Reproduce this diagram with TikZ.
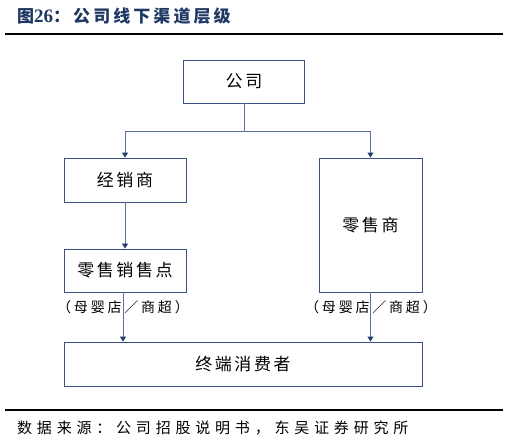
\documentclass[tikz,border=0pt]{standalone}
\usepackage{fontspec}
\setmainfont{Noto Sans CJK SC}
\newfontfamily\boxfont[LetterSpace=15]{Noto Sans CJK SC}
\newfontfamily\labfont[LetterSpace=20]{Noto Sans CJK SC}
\newfontfamily\srcfont[LetterSpace=32]{Noto Sans CJK SC}
\newfontfamily\titfont[LetterSpace=18]{Noto Sans CJK SC}
\newfontfamily\titnum{Liberation Serif}
\usetikzlibrary{arrows.meta}
\definecolor{boxline}{HTML}{3A5186}
\definecolor{conn}{HTML}{5A72A0}
\definecolor{navy}{HTML}{1F3A6B}
\definecolor{titc}{HTML}{1F3864}
\tikzset{
  box/.style={draw=boxline, line width=0.9pt, inner sep=0pt, align=center,
    font=\boxfont\fontsize{17}{19}\selectfont},
  conn/.style={draw=conn, line width=0.9pt},
  arr/.style={conn, -{Triangle[length=5pt,width=6pt,fill=navy,color=navy]}},
  lab/.style={font=\labfont\fontsize{14}{16}\selectfont, inner sep=0pt},
}
\begin{document}
\begin{tikzpicture}[x=1pt,y=-1pt]
\useasboundingbox (0,0) rectangle (509,444);
\fill[white] (0,0) rectangle (509,444);
% title and rules
\node[anchor=west, inner sep=0pt, text=titc, font=\titfont\bfseries\fontsize{17}{19}\selectfont] (title) at (17,16) {图{\titnum\bfseries\fontsize{19}{19}\selectfont 26}：公司线下渠道层级};
\coordinate (r1a) at (5,34); \coordinate (r1b) at (503,34);
\draw[line width=2pt] (r1a) -- (r1b);
\coordinate (r2a) at (5,410); \coordinate (r2b) at (503,410);
\draw[line width=1.5pt] (r2a) -- (r2b);
\node[anchor=west, inner sep=0pt, font=\srcfont\fontsize{15}{17}\selectfont] (src) at (17,428) {数据来源：公司招股说明书，东吴证券研究所};
% boxes
\node[box, minimum width=121pt, minimum height=43pt] (gs) at (244,81.5) {公司};
\node[box, minimum width=122pt, minimum height=44pt] (jxs) at (125,180) {经销商};
\node[box, minimum width=103pt, minimum height=134pt] (lss) at (370.5,225) {零售商};
\node[box, minimum width=122pt, minimum height=43pt] (lsd) at (125,270.5) {零售销售点};
\node[box, minimum width=358pt, minimum height=44pt] (end) at (243,364) {终端消费者};
% labels
\node[lab] (lab1) at (123,307) {（母婴店／商超）};
\node[lab] (lab2) at (371,307) {（母婴店／商超）};
% connectors
\draw[conn] (gs.south) -- ++(0,27.5) coordinate (split);
\draw[arr] (split) -| (jxs.north);
\draw[arr] (split) -| (lss.north);
\draw[arr] (jxs.south) -- (lsd.north);
\draw[arr] ([xshift=-2pt]lsd.south) -- ([xshift=-2pt]lsd.south |- end.north);
\draw[arr] (lss.south) -- (lss.south |- end.north);
\end{tikzpicture}
\end{document}
